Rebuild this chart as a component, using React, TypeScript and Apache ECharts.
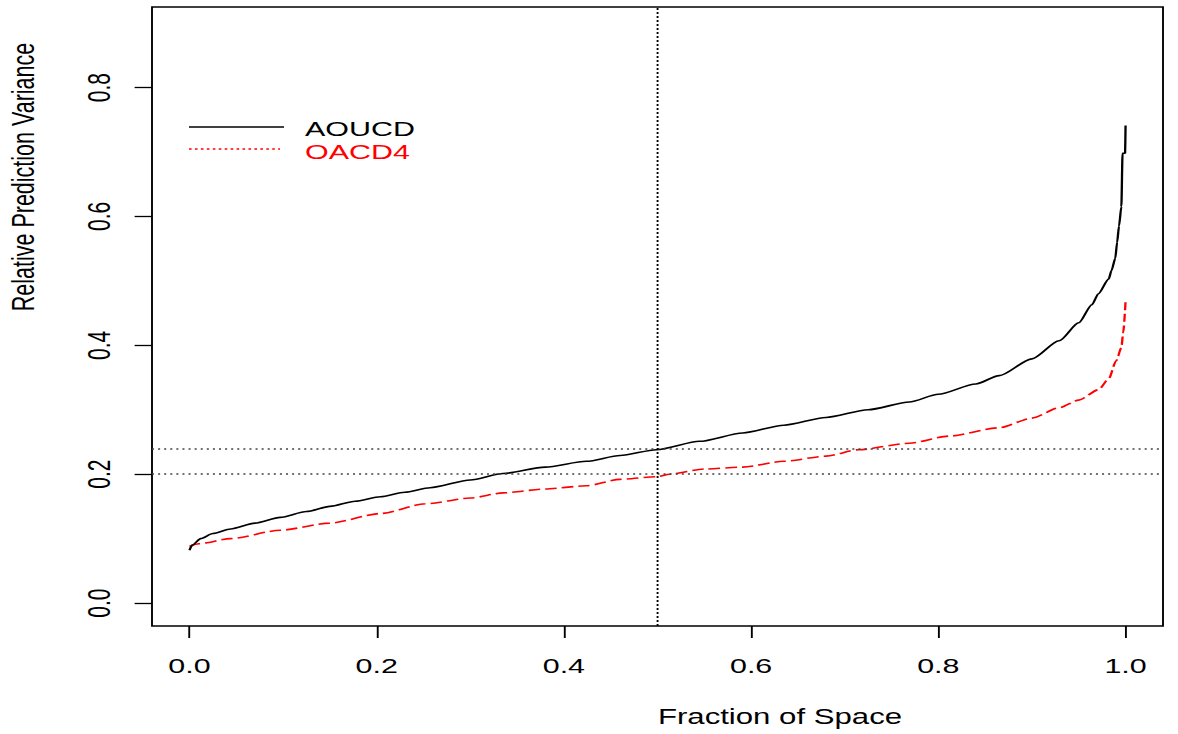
import React, { useEffect, useRef } from "react";
import * as echarts from "echarts";

// ---- data ----
const xTicks = [0, 0.2, 0.4, 0.6, 0.8, 1.0];
const yTicks = [0, 0.2, 0.4, 0.6, 0.8];

const aoucdX = [0, 0.003, 0.012, 0.025, 0.044, 0.07, 0.097, 0.125, 0.15, 0.177, 0.204, 0.23, 0.257, 0.3, 0.335, 0.38, 0.424, 0.46, 0.499, 0.545, 0.591, 0.635, 0.68, 0.725, 0.769, 0.8, 0.84, 0.865, 0.9, 0.929, 0.95, 0.964, 0.971, 0.982, 0.985, 0.989, 0.991, 0.993, 0.9955, 0.9968, 0.9995, 1.0];
const aoucdY = [0.082, 0.09, 0.1, 0.108, 0.115, 0.124, 0.133, 0.142, 0.15, 0.158, 0.165, 0.172, 0.179, 0.191, 0.201, 0.211, 0.22, 0.229, 0.238, 0.251, 0.264, 0.276, 0.288, 0.3, 0.312, 0.324, 0.34, 0.353, 0.379, 0.407, 0.435, 0.463, 0.48, 0.503, 0.516, 0.535, 0.56, 0.585, 0.615, 0.698, 0.698, 0.741];

const oacd4X = [0, 0.01, 0.044, 0.097, 0.15, 0.204, 0.252, 0.3, 0.335, 0.38, 0.424, 0.46, 0.499, 0.513, 0.55, 0.591, 0.635, 0.68, 0.715, 0.769, 0.811, 0.865, 0.9, 0.929, 0.95, 0.971, 0.982, 0.99, 0.9955, 0.9975, 1.0];
const oacd4Y = [0.088, 0.092, 0.1, 0.113, 0.124, 0.139, 0.154, 0.163, 0.171, 0.177, 0.182, 0.192, 0.196, 0.2, 0.208, 0.211, 0.22, 0.228, 0.238, 0.248, 0.259, 0.272, 0.287, 0.303, 0.315, 0.331, 0.348, 0.376, 0.396, 0.42, 0.468];

const hLines = [0.2386, 0.1965];
const vLine = 0.499;

const seriesNames = ["AOUCD", "OACD4"];
const seriesColors = ["#000000", "#ff0000"];

// horizontal stretch of the original picture
const S = 1.45;
const FULL_W = 1178;
const H = 734;
const W = FULL_W / S;
const FONT = '"Liberation Sans", Arial, Helvetica, sans-serif';

export default function App() {
  const ref = useRef<HTMLDivElement>(null);

  useEffect(() => {
    if (!ref.current) return;
    const chart = echarts.init(ref.current, null, { renderer: "svg", width: W, height: H });

    const option: any = {
      animation: false,
      backgroundColor: "#ffffff",
      grid: {
        left: 152 / S,
        right: (FULL_W - 1163) / S,
        top: 7,
        bottom: H - 626,
        show: true,
        borderColor: "#000",
        borderWidth: 1.3,
        backgroundColor: "transparent",
      },
      xAxis: {
        type: "value",
        min: -0.04,
        max: 1.04,
        axisLine: { show: false, onZero: false },
        splitLine: { show: false },
        axisTick: {
          show: true,
          length: 12,
          inside: false,
          customValues: xTicks,
          lineStyle: { color: "#000", width: 1.3 },
        },
        axisLabel: {
          customValues: xTicks,
          formatter: (v: number) => v.toFixed(1),
          margin: 29,
          fontSize: 21,
          fontFamily: FONT,
          color: "#000",
        },
      },
      yAxis: {
        type: "value",
        min: -0.0356,
        max: 0.925,
        axisLine: { show: false, onZero: false },
        splitLine: { show: false },
        axisTick: {
          show: true,
          length: 12,
          inside: false,
          customValues: yTicks,
          lineStyle: { color: "#000", width: 1.3 },
        },
        axisLabel: {
          customValues: yTicks,
          formatter: (v: number) => v.toFixed(1),
          rotate: 90,
          margin: 26,
          fontSize: 21,
          fontFamily: FONT,
          color: "#000",
        },
      },
      series: [
        {
          name: seriesNames[0],
          type: "line",
          data: aoucdX.map((x, i) => [x, aoucdY[i]]),
          showSymbol: false,
          symbol: "none",
          smooth: 0.25,
          smoothMonotone: "x",
          lineStyle: { color: seriesColors[0], width: 1.6 },
          z: 3,
          markLine: {
            silent: true,
            symbol: ["none", "none"],
            label: { show: false },
            data: [
              ...hLines.map((v) => ({
                yAxis: v,
                lineStyle: { color: "#444", width: 1.6, type: [1.4, 2.8] },
              })),
              { xAxis: vLine, lineStyle: { color: "#000", width: 1.3, type: [2, 2] } },
            ],
          },
        },
        {
          name: seriesNames[1],
          type: "line",
          data: oacd4X.map((x, i) => [x, oacd4Y[i]]),
          showSymbol: false,
          symbol: "none",
          smooth: 0.25,
          smoothMonotone: "x",
          lineStyle: { color: seriesColors[1], width: 1.6, type: [8, 3.5] },
          z: 2,
        },
      ],
      graphic: [
        {
          type: "line",
          shape: { x1: 189 / S, y1: 127, x2: 284 / S, y2: 127 },
          style: { stroke: seriesColors[0], lineWidth: 1.3 },
        },
        {
          type: "text",
          x: 305 / S,
          y: 128.5,
          style: {
            text: seriesNames[0],
            fill: seriesColors[0],
            fontSize: 21,
            fontFamily: FONT,
            align: "left",
            verticalAlign: "middle",
          },
        },
        {
          type: "line",
          shape: { x1: 189 / S, y1: 149, x2: 280 / S, y2: 149 },
          style: { stroke: seriesColors[1], lineWidth: 1.3, lineDash: [1.8, 2.3] },
        },
        {
          type: "text",
          x: 305 / S,
          y: 152,
          style: {
            text: seriesNames[1],
            fill: seriesColors[1],
            fontSize: 21,
            fontFamily: FONT,
            align: "left",
            verticalAlign: "middle",
          },
        },
        {
          type: "text",
          x: 24 / S,
          y: 177,
          rotation: Math.PI / 2,
          style: {
            text: "Relative Prediction Variance",
            fill: "#000",
            fontSize: 21.5,
            fontFamily: FONT,
            align: "center",
            verticalAlign: "middle",
          },
        },
        {
          type: "text",
          x: 780 / S,
          y: 717,
          style: {
            text: "Fraction of Space",
            fill: "#000",
            fontSize: 21.5,
            fontFamily: FONT,
            align: "center",
            verticalAlign: "middle",
          },
        },
      ],
    };

    chart.setOption(option);
    return () => chart.dispose();
  }, []);

  return (
    <div
      ref={ref}
      style={{
        position: "fixed",
        left: 0,
        top: 0,
        width: W,
        height: H,
        transform: `scaleX(${S})`,
        transformOrigin: "0 0",
        background: "#fff",
      }}
    />
  );
}
